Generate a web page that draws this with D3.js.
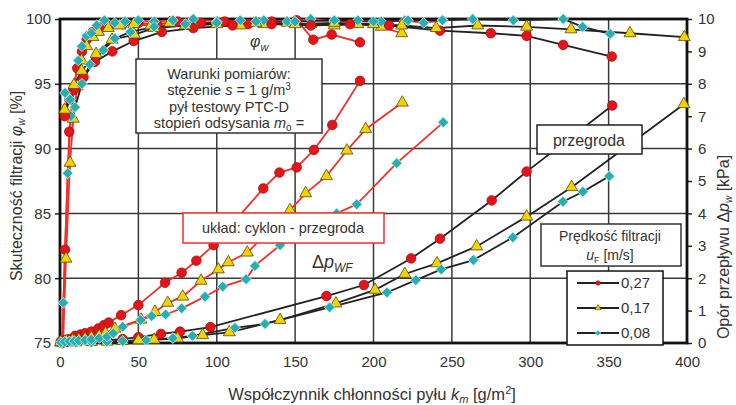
<!DOCTYPE html>
<html>
<head>
<meta charset="utf-8">
<script src="https://cdn.jsdelivr.net/npm/d3@7"></script>
<style>
  body { margin: 0; background: #fff; }
  text { font-family: Arial, "Liberation Sans", sans-serif; fill: #333; }
</style>
</head>
<body>
<div id="chart"></div>
<script>
// Dimensions and margins
const margin = { top: 19, right: 49, bottom: 62, left: 60 };
const width = 736 - margin.left - margin.right;
const height = 405 - margin.top - margin.bottom;

// Axis ticks
const xTicks = [0, 50, 100, 150, 200, 250, 300, 350, 400];
const effTicks = [75, 80, 85, 90, 95, 100];
const dpTicks = [0, 1, 2, 3, 4, 5, 6, 7, 8, 9, 10];

// Legend
const speeds = ["0,27", "0,17", "0,08"];

// Efficiency [%], system cyclone + partition (red lines)
const effUklad027 = [[1.5, 75], [3.2, 82.2], [5.9, 91.3], [8.5, 94.5], [11, 96.2], [14, 97.5], [17, 98.4], [21, 99.0], [26, 99.3], [32, 99.5], [40, 99.6], [50, 99.7], [62, 99.6], [75, 99.8], [90, 99.7], [105, 99.8], [120, 99.6], [135, 99.8], [151, 99.9], [161.6, 98.4], [173.3, 98.8], [191.4, 98.2]];
const effUklad017 = [[2, 75], [3.8, 81.5], [6.4, 88.9], [8.5, 92.3], [11, 94.8], [13.8, 96.8], [17, 97.9], [21, 98.6], [24.5, 99.0], [30.8, 99.3], [38, 99.5], [47, 99.6], [58, 99.5], [70, 99.7], [85, 99.6], [100, 99.7], [115, 99.5], [130, 99.6], [145, 99.7], [160, 99.6], [175, 99.5], [190, 99.6], [205, 99.4], [218, 98.9]];
const effUklad008 = [[1.2, 75], [2.1, 78.1], [4.9, 88.1], [7, 92.5], [9, 94.8], [11.7, 96.8], [14, 97.9], [17, 98.7], [20, 98.9], [23.4, 99.5], [28.3, 99.9], [35, 99.7], [41.5, 99.8], [50, 99.9], [60, 99.8], [72, 99.9], [85, 100], [100, 99.8], [115, 99.9], [130, 99.9], [145, 99.8], [160, 100], [175, 99.8], [190, 99.9], [205, 99.8], [220, 99.9], [232, 99.7], [244, 99.9]];

// Efficiency [%], partition only (black lines)
const effPrzeg027 = [[3, 92.5], [6, 93.8], [10, 94.7], [15, 95.5], [22.3, 96.7], [33.4, 97.5], [47, 98.3], [65, 99.0], [85, 99.3], [110, 99.5], [135, 99.6], [160, 99.5], [185, 99.6], [210, 99.5], [242.4, 99.1], [274.8, 98.9], [297.7, 98.7], [321, 98.0], [352, 97.1]];
const effPrzeg017 = [[3, 93.0], [8.9, 94.9], [13.8, 96.0], [23, 97.3], [33.2, 98.4], [47.4, 98.8], [60, 99.3], [80, 99.5], [100, 99.6], [125, 99.7], [150, 99.6], [175, 99.7], [200, 99.6], [218, 99.5], [240, 99.3], [266.5, 99.5], [297.7, 99.4], [326, 99.2], [363.6, 98.9], [398.3, 98.6]];
const effPrzeg008 = [[3.2, 94.3], [6.4, 93.8], [9.6, 93.2], [14, 95.0], [19, 96.5], [27.6, 97.6], [35, 98.5], [45, 99.0], [60, 99.4], [80, 99.6], [100, 99.7], [125, 99.8], [150, 99.8], [175, 99.9], [200, 99.8], [222, 99.9], [244, 99.9], [263.3, 100], [289.2, 99.9], [321, 100], [333.4, 99.4], [351, 98.85]];

// Pressure drop [kPa], system cyclone + partition (red lines)
const dpUklad027 = [[0.5, 0.05], [3, 0.08], [6, 0.12], [9.6, 0.22], [13, 0.26], [16, 0.3], [20, 0.35], [24.5, 0.45], [28, 0.55], [31, 0.63], [39, 0.86], [50, 1.17], [67, 1.86], [77.6, 2.17], [87, 2.54], [98, 3.02], [129.7, 4.77], [140, 5.26], [151, 5.42], [162, 5.96], [173.7, 6.73], [191.4, 8.09]];
const dpUklad017 = [[0.5, 0.03], [4, 0.06], [8, 0.08], [12, 0.1], [16, 0.13], [20, 0.17], [25, 0.22], [29, 0.3], [35, 0.44], [51.7, 0.72], [60.6, 0.96], [68.7, 1.24], [78.3, 1.43], [90, 1.92], [101, 2.27], [107.4, 2.49], [119.5, 2.79], [146.7, 4.1], [156.7, 4.62], [170, 5.15], [183, 5.94], [195, 6.6], [218.4, 7.42]];
const dpUklad008 = [[0.5, 0.02], [3, 0.04], [6, 0.05], [9, 0.06], [12, 0.07], [16, 0.09], [20, 0.11], [25, 0.15], [30, 0.2], [34, 0.3], [40, 0.5], [51.5, 0.71], [58.5, 0.83], [67.4, 0.88], [77.6, 1.07], [92.5, 1.43], [103.8, 1.74], [118.7, 1.97], [124.4, 2.38], [140.4, 3.02], [176.5, 4.0], [189.3, 4.28], [214.8, 5.55], [244.5, 6.81]];

// Pressure drop [kPa], partition only (black lines)
const dpPrzeg027 = [[0.5, 0.02], [5, 0.04], [10, 0.05], [20, 0.07], [30, 0.09], [40, 0.12], [50, 0.18], [64.4, 0.28], [76.6, 0.35], [96, 0.49], [170, 1.45], [193.9, 1.79], [224, 2.61], [242.4, 3.22], [275.4, 4.4], [297.7, 5.29], [352.3, 7.33]];
const dpPrzeg017 = [[0.5, 0.01], [10, 0.02], [20, 0.03], [30, 0.04], [40, 0.06], [50, 0.08], [60, 0.1], [75, 0.14], [91, 0.24], [108, 0.33], [140.4, 0.71], [176, 1.22], [201, 1.64], [220, 2.13], [240.5, 2.46], [265.8, 2.98], [297.7, 3.9], [326.4, 4.81], [398, 7.37]];
const dpPrzeg008 = [[0.5, 0.01], [10, 0.02], [20, 0.03], [30, 0.04], [40, 0.06], [55, 0.09], [72, 0.15], [84.5, 0.22], [111.6, 0.47], [130.8, 0.59], [172, 1.1], [208.6, 1.56], [227, 1.94], [243.2, 2.27], [263.7, 2.56], [288.9, 3.26], [320.8, 4.36], [333.6, 4.67], [350.4, 5.15]];

// Create SVG container
const root = d3.select("#chart")
    .append("svg")
    .attr("width", width + margin.left + margin.right)
    .attr("height", height + margin.top + margin.bottom);

const svg = root.append("g")
    .attr("transform", `translate(${margin.left},${margin.top})`);

// Scales
const x = d3.scaleLinear().domain([0, 400]).range([0, width]);
const yEff = d3.scaleLinear().domain([75, 100]).range([height, 0]);
const yDp = d3.scaleLinear().domain([0, 10]).range([height, 0]);

svg.append("clipPath").attr("id", "plot-clip")
    .append("rect").attr("x", -6).attr("y", -6).attr("width", width + 12).attr("height", height + 12);

// Grid
svg.append("g")
    .selectAll("line")
    .data(xTicks.slice(1, -1))
    .enter().append("line")
    .attr("x1", d => x(d)).attr("x2", d => x(d))
    .attr("y1", 0).attr("y2", height)
    .attr("stroke", "#3a3a3a").attr("stroke-width", 1.5);

svg.append("g")
    .selectAll("line")
    .data(effTicks.slice(1, -1))
    .enter().append("line")
    .attr("x1", 0).attr("x2", width)
    .attr("y1", d => yEff(d)).attr("y2", d => yEff(d))
    .attr("stroke", "#3a3a3a").attr("stroke-width", 1.5);

// Axes
const axisFont = "15px";
const gx = svg.append("g")
    .attr("transform", `translate(0,${height})`)
    .call(d3.axisBottom(x).tickValues(xTicks).tickSize(0).tickPadding(13));
const gl = svg.append("g")
    .call(d3.axisLeft(yEff).tickValues(effTicks).tickSize(5).tickPadding(4));
const gr = svg.append("g")
    .attr("transform", `translate(${width},0)`)
    .call(d3.axisRight(yDp).tickValues(dpTicks).tickSize(5).tickPadding(6));

[gx, gl, gr].forEach(g => {
    g.select(".domain").remove();
    g.selectAll("line").attr("stroke", "#222").attr("stroke-width", 1.5);
    g.selectAll("text").style("font-size", axisFont).style("fill", "#333");
});

// Frame
svg.append("rect")
    .attr("width", width).attr("height", height)
    .attr("fill", "none").attr("stroke", "#111").attr("stroke-width", 2.8);

// Lines and markers
const plot = svg.append("g").attr("clip-path", "url(#plot-clip)");

const series = [
    { data: effUklad027, y: yEff, line: "#f0302a", mark: "circle" },
    { data: effUklad017, y: yEff, line: "#f0302a", mark: "triangle" },
    { data: effUklad008, y: yEff, line: "#f0302a", mark: "diamond" },
    { data: effPrzeg027, y: yEff, line: "#222", mark: "circle" },
    { data: effPrzeg017, y: yEff, line: "#222", mark: "triangle" },
    { data: effPrzeg008, y: yEff, line: "#222", mark: "diamond" },
    { data: dpPrzeg027, y: yDp, line: "#222", mark: "circle" },
    { data: dpPrzeg017, y: yDp, line: "#222", mark: "triangle" },
    { data: dpPrzeg008, y: yDp, line: "#222", mark: "diamond" },
    { data: dpUklad027, y: yDp, line: "#f0302a", mark: "circle" },
    { data: dpUklad017, y: yDp, line: "#f0302a", mark: "triangle" },
    { data: dpUklad008, y: yDp, line: "#f0302a", mark: "diamond" }
];

// diamonds are squares turned by 45 degrees
const markStyle = {
    circle: { symbol: d3.symbolCircle, size: 72, rot: 0, fill: "#e3151b", stroke: "#a80f12" },
    triangle: { symbol: d3.symbolTriangle, size: 62, rot: 0, fill: "#f2d200", stroke: "#5a4a00" },
    diamond: { symbol: d3.symbolSquare, size: 58, rot: 45, fill: "#26aeb0", stroke: "#c8f0f0" }
};

series.forEach(s => {
    const line = d3.line().x(d => x(d[0])).y(d => s.y(d[1]));
    plot.append("path")
        .datum(s.data)
        .attr("d", line)
        .attr("fill", "none")
        .attr("stroke", s.line)
        .attr("stroke-width", 1.8);
});

series.forEach(s => {
    const m = markStyle[s.mark];
    plot.selectAll(null)
        .data(s.data)
        .enter().append("path")
        .attr("d", d3.symbol().type(m.symbol).size(m.size))
        .attr("transform", d => `translate(${x(d[0])},${s.y(d[1])}) rotate(${m.rot})`)
        .attr("fill", m.fill)
        .attr("stroke", m.stroke)
        .attr("stroke-width", 0.8);
});

// Boxes with text
function box(x0, y0, w, h, stroke) {
    root.append("rect")
        .attr("x", x0).attr("y", y0).attr("width", w).attr("height", h)
        .attr("fill", "#fff").attr("stroke", stroke).attr("stroke-width", 1.5);
}

box(136, 59, 186, 74, "#333");
const cond = root.append("text")
    .attr("text-anchor", "middle")
    .style("font-size", "14.5px");
cond.append("tspan").attr("x", 229).attr("y", 79).text("Warunki pomiarów:");
const c2 = cond.append("tspan").attr("x", 229).attr("y", 95);
c2.append("tspan").text("stężenie ");
c2.append("tspan").style("font-style", "italic").text("s");
c2.append("tspan").text(" = 1 g/m");
c2.append("tspan").attr("dy", -5).style("font-size", "10px").text("3");
cond.append("tspan").attr("x", 229).attr("y", 112).text("pył testowy PTC-D");
const c4 = cond.append("tspan").attr("x", 229).attr("y", 128);
c4.append("tspan").text("stopień odsysania ");
c4.append("tspan").style("font-style", "italic").text("m");
c4.append("tspan").attr("dy", 3).style("font-size", "10px").text("o");
c4.append("tspan").attr("dy", -3).text(" =");

box(183, 213, 201, 30, "#f0302a");
root.append("text")
    .attr("x", 283).attr("y", 233)
    .attr("text-anchor", "middle")
    .style("font-size", "14.5px")
    .text("układ: cyklon - przegroda");

box(537, 125, 105, 29, "#222");
root.append("text")
    .attr("x", 589).attr("y", 145.5)
    .attr("text-anchor", "middle")
    .style("font-size", "16px")
    .text("przegroda");

// Legend
box(541, 224, 140, 42, "#333");
root.append("text")
    .attr("x", 610).attr("y", 241)
    .attr("text-anchor", "middle")
    .style("font-size", "14px")
    .text("Prędkość filtracji");
const lt = root.append("text")
    .attr("x", 610).attr("y", 260)
    .attr("text-anchor", "middle")
    .style("font-size", "14px");
lt.append("tspan").style("font-style", "italic").text("u");
lt.append("tspan").attr("dy", 3).style("font-size", "9px").text("F");
lt.append("tspan").attr("dy", -3).text(" [m/s]");

box(567, 271, 96, 74, "#111");
const legendMarks = ["circle", "triangle", "diamond"];
speeds.forEach((label, i) => {
    const ly = 283 + i * 25;
    const m = markStyle[legendMarks[i]];
    root.append("line")
        .attr("x1", 577).attr("x2", 619).attr("y1", ly).attr("y2", ly)
        .attr("stroke", "#222").attr("stroke-width", 1.8);
    root.append("path")
        .attr("d", d3.symbol().type(m.symbol).size(16))
        .attr("transform", `translate(598,${ly}) rotate(${m.rot})`)
        .attr("fill", m.fill).attr("stroke", m.stroke).attr("stroke-width", 0.6);
    root.append("text")
        .attr("x", 621).attr("y", ly + 5)
        .style("font-size", "15px")
        .text(label);
});

// Curve labels
const phi = root.append("text")
    .attr("x", 250).attr("y", 47)
    .style("font-size", "16px");
phi.append("tspan").style("font-style", "italic").text("φ");
phi.append("tspan").attr("dy", 4).style("font-size", "11px").style("font-style", "italic").text("w");

const dp = root.append("text")
    .attr("x", 312).attr("y", 268)
    .style("font-size", "18px");
dp.append("tspan").text("Δ");
dp.append("tspan").style("font-style", "italic").text("p");
dp.append("tspan").attr("dy", 4).style("font-size", "12px").style("font-style", "italic").text("WF");

// Axis labels
const xl = root.append("text")
    .attr("x", 372).attr("y", 400)
    .attr("text-anchor", "middle")
    .style("font-size", "16.5px");
xl.append("tspan").text("Współczynnik chłonności pyłu ");
xl.append("tspan").style("font-style", "italic").text("k");
xl.append("tspan").attr("dy", 3).style("font-size", "11px").style("font-style", "italic").text("m");
xl.append("tspan").attr("dy", -3).text(" [g/m");
xl.append("tspan").attr("dy", -6).style("font-size", "11px").text("2");
xl.append("tspan").attr("dy", 6).text("]");

const yl = root.append("text")
    .attr("transform", "translate(22,186) rotate(-90)")
    .attr("text-anchor", "middle")
    .style("font-size", "16px");
yl.append("tspan").text("Skuteczność filtracji ");
yl.append("tspan").style("font-style", "italic").text("φ");
yl.append("tspan").attr("dy", 3).style("font-size", "10px").style("font-style", "italic").text("w");
yl.append("tspan").attr("dy", -3).text(" [%]");

const yr = root.append("text")
    .attr("transform", "translate(729,247) rotate(-90)")
    .attr("text-anchor", "middle")
    .style("font-size", "16px");
yr.append("tspan").text("Opór przepływu Δ");
yr.append("tspan").style("font-style", "italic").text("p");
yr.append("tspan").attr("dy", 3).style("font-size", "10px").style("font-style", "italic").text("w");
yr.append("tspan").attr("dy", -3).text(" [kPa]");
</script>
</body>
</html>
